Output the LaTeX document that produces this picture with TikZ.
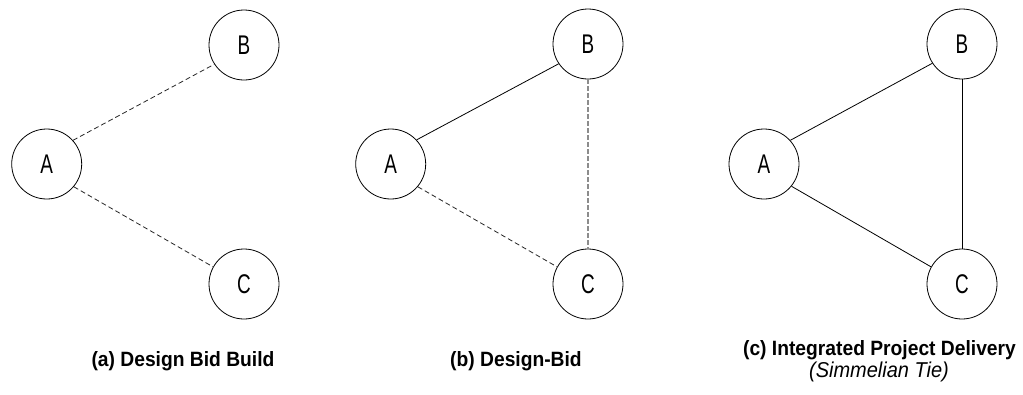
\documentclass[tikz,border=0pt]{standalone}
\usepackage{fontspec}
\setmainfont{Liberation Sans}
\newfontfamily\nodefont[FakeStretch=0.7]{Liberation Sans}
\newfontfamily\capfont[FakeStretch=0.93]{Liberation Sans}
\begin{document}
\begin{tikzpicture}[x=1pt,y=-1pt,
  actor/.style={circle,draw=black,line width=0.8pt,minimum size=70pt,inner sep=0pt,
    font=\nodefont\fontsize{27}{30}\selectfont},
  tie/.style={line width=0.8pt,draw=black},
  weaktie/.style={line width=0.8pt,draw=black!85,dash pattern=on 5pt off 3pt},
  greytie/.style={line width=1.3pt,draw=black!45,dash pattern=on 5pt off 2pt},
  caption/.style={anchor=base,font=\capfont\fontsize{20.7}{24}\selectfont\bfseries},
  subcaption/.style={anchor=base,font=\capfont\fontsize{21.5}{24}\selectfont\itshape}]
\useasboundingbox (0,0) rectangle (1023,394);

% (a) Design Bid Build
\node[actor] (aA) at (46.7,164) {A};
\node[actor] (aB) at (244,45) {B};
\node[actor] (aC) at (244,284) {C};
\draw[weaktie] (aA.42) -- (aB.213);
\draw[weaktie] (aA.-40) -- (aC.151);
\node[caption] (capa) at (183,366) {(a) Design Bid Build};

% (b) Design-Bid
\node[actor] (bA) at (390.7,164) {A};
\node[actor] (bB) at (588,44) {B};
\node[actor] (bC) at (588,284) {C};
\draw[tie] (bA.43) -- (bB.214);
\draw[weaktie] (bA.-40) -- (bC.151);
\draw[greytie] (bB.south) -- (bC.north);
\node[caption] (capb) at (516,366) {(b) Design-Bid};

% (c) Integrated Project Delivery
\node[actor] (cA) at (764,164) {A};
\node[actor] (cB) at (962,44) {B};
\node[actor] (cC) at (962,284) {C};
\draw[tie] (cA.42) -- (cB.213);
\draw[tie] (cA.-39) -- (cC.151);
\draw[tie] (cB.south) -- (cC.north);
\node[caption] (capc) at (879.5,355) {(c) Integrated Project Delivery};
\node[subcaption] (capc2) at (879,377) {(Simmelian Tie)};
\end{tikzpicture}
\end{document}
